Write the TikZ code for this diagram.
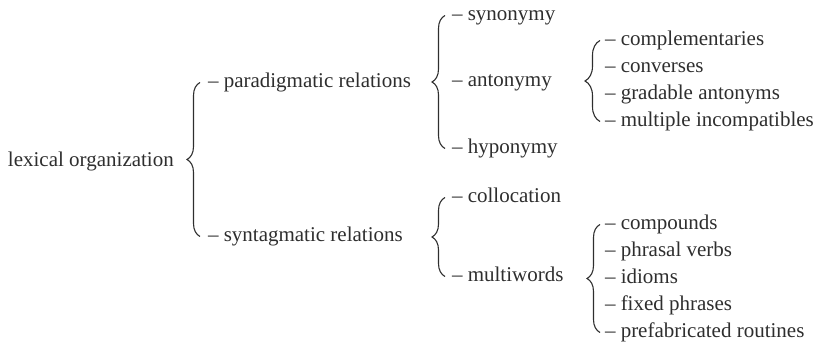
\documentclass[tikz,border=0pt]{standalone}
\usepackage{fontspec}
\setmainfont{Liberation Serif}
\usetikzlibrary{decorations.pathreplacing}
\begin{document}
\begin{tikzpicture}[x=1pt,y=-1pt,
  txt/.style={anchor=base west,inner sep=0pt,outer sep=0pt,text=black!82,
    font=\fontsize{21}{25}\selectfont},
  brc/.style={draw=black!82,line width=1.1pt,decorate,
    decoration={brace,amplitude=#1}},
  brc/.default=13pt]
\useasboundingbox (0,0) rectangle (820,344);
\node[txt] (lex) at (8,167) {lexical organization};
\node[txt] (par) at (208,88) {– paradigmatic relations};
\node[txt] (syt) at (208,242) {– syntagmatic relations};
\node[txt] (syn) at (452,21) {– synonymy};
\node[txt] (ant) at (452,87) {– antonymy};
\node[txt] (hyp) at (452,154) {– hyponymy};
\node[txt] (col) at (452,203) {– collocation};
\node[txt] (mul) at (452,282) {– multiwords};
\node[txt] (cmp) at (605,46) {– complementaries};
\node[txt] (cnv) at (605,73) {– converses};
\node[txt] (grd) at (605,100) {– gradable antonyms};
\node[txt] (mlt) at (605,127) {– multiple incompatibles};
\node[txt] (cpd) at (605,230) {– compounds};
\node[txt] (phr) at (605,257) {– phrasal verbs};
\node[txt] (idi) at (605,284) {– idioms};
\node[txt] (fix) at (605,311) {– fixed phrases};
\node[txt] (pre) at (605,338) {– prefabricated routines};
\draw[brc] ([shift={(-8pt,5.5pt)}]syt.base west) -- ([shift={(-8pt,5.5pt)}]par.base west);
\draw[brc] ([shift={(-7pt,5.5pt)}]hyp.base west) -- ([shift={(-7pt,5.5pt)}]syn.base west);
\draw[brc] ([shift={(-7pt,5.5pt)}]mul.base west) -- ([shift={(-7pt,5.5pt)}]col.base west);
\draw[brc=15pt] ([shift={(-5pt,5.5pt)}]mlt.base west) -- ([shift={(-5pt,5.5pt)}]cmp.base west);
\draw[brc=13pt] ([shift={(-5pt,5.5pt)}]pre.base west) -- ([shift={(-5pt,5.5pt)}]cpd.base west);
\end{tikzpicture}
\end{document}
